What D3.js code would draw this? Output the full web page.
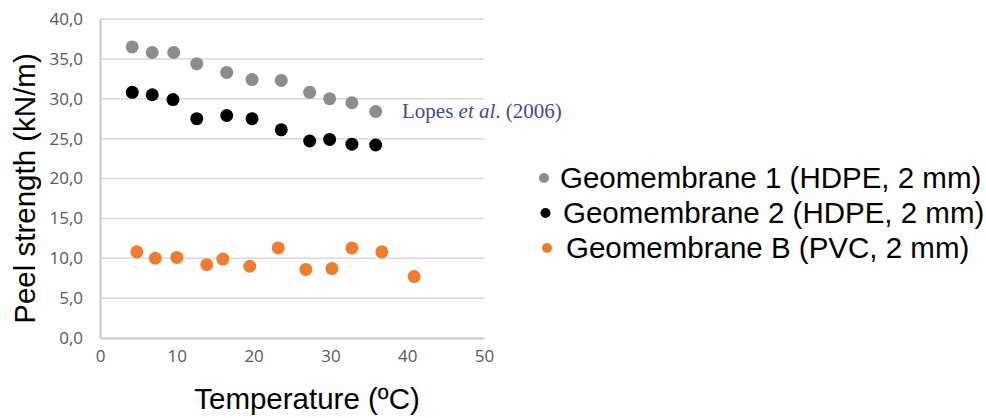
<!DOCTYPE html>
<html>
<head>
<meta charset="utf-8">
<script src="https://cdn.jsdelivr.net/npm/d3@7"></script>
<style>
  body { margin: 0; background: #fff; }
  svg { display: block; }
</style>
</head>
<body>
<svg id="chart"></svg>
<script>
// temperature (ºC) and peel strength (kN/m)
const tempGeo1 = [4.2, 6.8, 9.6, 12.6, 16.5, 19.8, 23.6, 27.3, 29.9, 32.8, 35.9];
const peelGeo1 = [36.5, 35.8, 35.8, 34.4, 33.3, 32.4, 32.3, 30.8, 30.0, 29.5, 28.4];

const tempGeo2 = [4.2, 6.8, 9.5, 12.6, 16.5, 19.8, 23.6, 27.3, 29.9, 32.8, 35.9];
const peelGeo2 = [30.8, 30.5, 29.9, 27.5, 27.9, 27.5, 26.1, 24.7, 24.9, 24.3, 24.2];

const tempGeoB = [4.8, 7.2, 10.0, 13.9, 16.0, 19.5, 23.2, 26.8, 30.2, 32.8, 36.7, 40.9];
const peelGeoB = [10.8, 10.0, 10.1, 9.2, 9.9, 9.0, 11.3, 8.6, 8.7, 11.3, 10.8, 7.7];

const seriesNames = [
  'Geomembrane 1 (HDPE, 2 mm)',
  'Geomembrane 2 (HDPE, 2 mm)',
  'Geomembrane B (PVC, 2 mm)'
];
const seriesColors = ['#8c8c8c', '#000000', '#ed7d31'];

const xTicks = [0, 10, 20, 30, 40, 50];
const yTicks = [0, 5, 10, 15, 20, 25, 30, 35, 40];

const width = 986, height = 418;
const margin = { top: 19, right: 502, bottom: 80, left: 100 };

const svg = d3.select('#chart')
  .attr('width', width)
  .attr('height', height);

const x = d3.scaleLinear().domain([0, 50]).range([margin.left, width - margin.right]);
const y = d3.scaleLinear().domain([0, 40]).range([height - margin.bottom, margin.top]);

const comma = d => d3.format('.1f')(d).replace('.', ',');

// horizontal grid
svg.append('g')
  .selectAll('line')
  .data(yTicks.filter(d => d > 0))
  .join('line')
    .attr('x1', x(0)).attr('x2', x(50))
    .attr('y1', d => y(d)).attr('y2', d => y(d))
    .attr('stroke', '#d9d9d9')
    .attr('stroke-width', 1.5);

// y axis
const yAxis = svg.append('g')
  .attr('transform', `translate(${x(0)},0)`)
  .call(d3.axisLeft(y).tickValues(yTicks).tickFormat(comma).tickSize(0).tickPadding(17));
yAxis.select('.domain').attr('stroke', '#c8c8c8').attr('stroke-width', 2);

// x axis
const xAxis = svg.append('g')
  .attr('transform', `translate(0,${y(0)})`)
  .call(d3.axisBottom(x).tickValues(xTicks).tickSize(0).tickPadding(17));
xAxis.select('.domain').attr('stroke', '#c8c8c8').attr('stroke-width', 2);

svg.selectAll('.tick text')
  .attr('fill', '#595959')
  .style('font-family', '"Open Sans", sans-serif')
  .style('font-size', '17px');
xAxis.selectAll('.tick text').attr('dy', '0.4em');

// points
const series = [
  { temps: tempGeo1, peels: peelGeo1 },
  { temps: tempGeo2, peels: peelGeo2 },
  { temps: tempGeoB, peels: peelGeoB }
];

series.forEach((s, i) => {
  svg.append('g')
    .selectAll('circle')
    .data(s.temps.map((t, j) => [t, s.peels[j]]))
    .join('circle')
      .attr('cx', d => x(d[0]))
      .attr('cy', d => y(d[1]))
      .attr('r', 6.5)
      .attr('fill', seriesColors[i]);
});

// annotation
const note = svg.append('text')
  .attr('x', 402)
  .attr('y', 118)
  .attr('fill', '#3f4c8c')
  .style('font-family', '"Liberation Serif", "Times New Roman", serif')
  .style('font-size', '21px');
note.append('tspan').text('Lopes ');
note.append('tspan').style('font-style', 'italic').text('et al');
note.append('tspan').text('. (2006)');

// axis titles
svg.append('text')
  .attr('transform', `translate(35,${(y(40) + y(0)) / 2 + 10}) rotate(-90)`)
  .attr('text-anchor', 'middle')
  .style('font-family', '"Liberation Sans", Arial, sans-serif')
  .style('font-size', '29.5px')
  .text('Peel strength (kN/m)');

svg.append('text')
  .attr('x', 307)
  .attr('y', 409)
  .attr('text-anchor', 'middle')
  .style('font-family', '"Liberation Sans", Arial, sans-serif')
  .style('font-size', '29.5px')
  .text('Temperature (ºC)');

// legend (rows drift slightly right in the source)
const legend = svg.append('g')
  .selectAll('g')
  .data(seriesNames)
  .join('g')
    .attr('transform', (d, i) => `translate(${544 + i * 1.5},${178 + i * 35})`);

legend.append('circle')
  .attr('r', 5)
  .attr('fill', (d, i) => seriesColors[i]);

legend.append('text')
  .attr('x', (d, i) => 16 + i * 1.5)
  .attr('dy', '0.35em')
  .style('font-family', '"Liberation Sans", Arial, sans-serif')
  .style('font-size', '29.5px')
  .text(d => d);
</script>
</body>
</html>
